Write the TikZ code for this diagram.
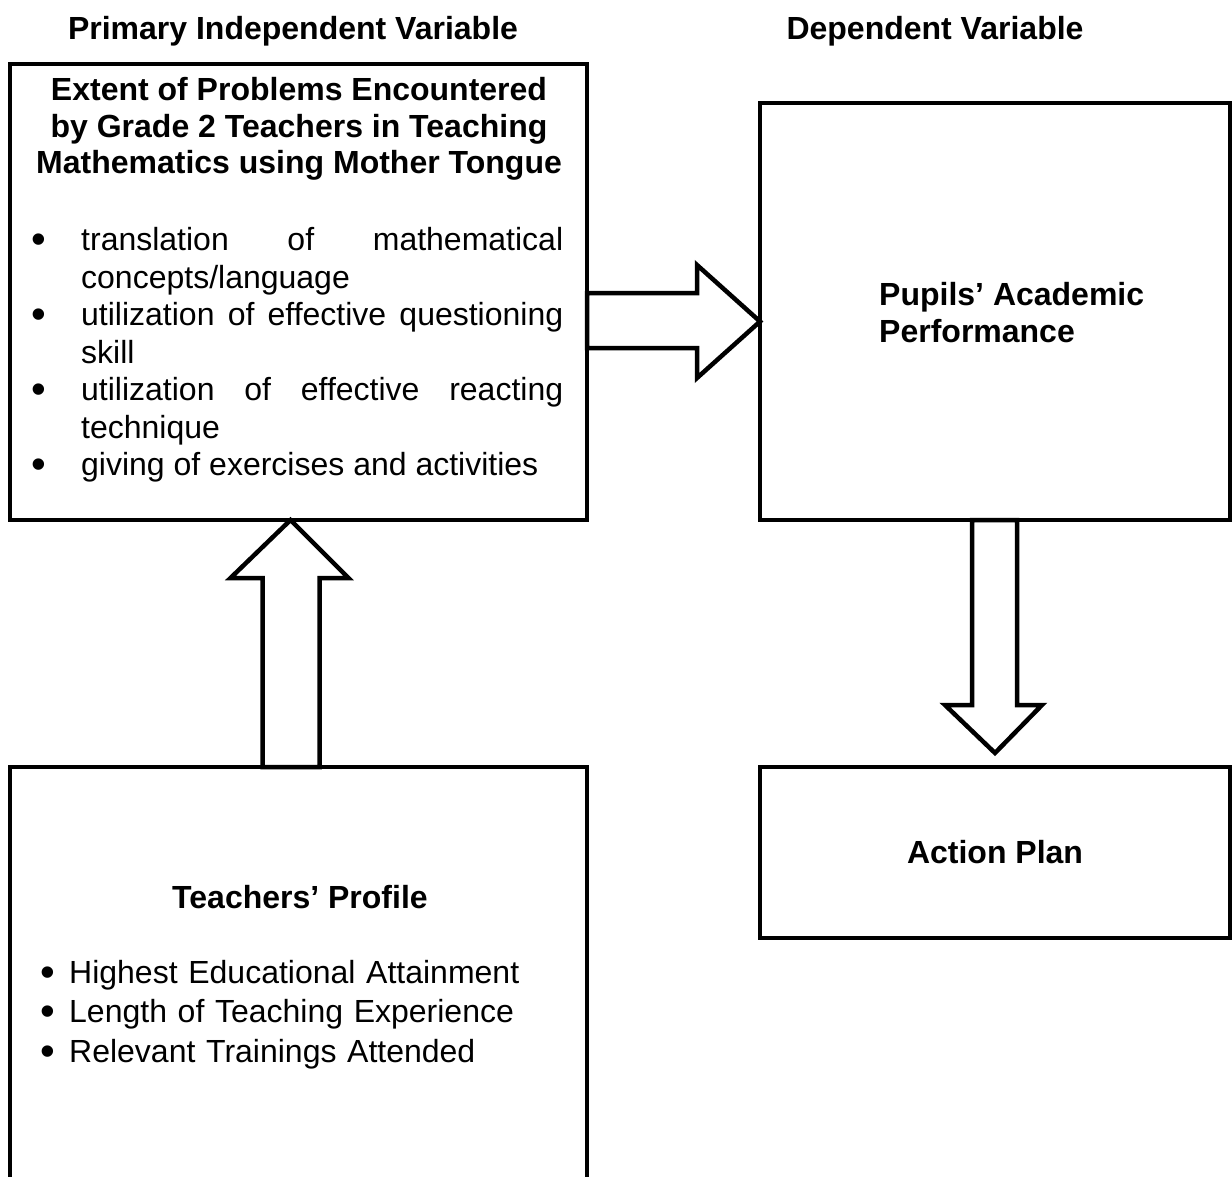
\documentclass[tikz,border=0pt]{standalone}
\usepackage{fontspec}
\setmainfont{Liberation Sans}
\usetikzlibrary{positioning, calc}
\tikzset{
  framebox/.style={
    draw,
    line width = 4.5pt,
    inner sep = 0,
    outer sep = 0,
    anchor = north west
  },
  blockarrow/.style={
    draw,
    fill = white,
    line width = 4.5pt,
    line join = miter
  },
  headlabel/.style={
    font = \bfseries\fontsize{32}{37}\selectfont,
    inner sep = 0,
    anchor = base
  },
  boxtitle/.style={
    font = \bfseries\fontsize{32}{36.5}\selectfont,
    align = center,
    inner sep = 0,
    anchor = base
  },
  itemtext/.style={
    font = \fontsize{32}{37.5}\selectfont,
    text width = 530pt,
    align = justify,
    inner sep = 0,
    anchor = base west
  },
  profitems/.style={
    font = \fontsize{32}{39.5}\selectfont,
    text width = 520pt,
    align = left,
    inner sep = 0,
    anchor = base west
  }
}
\newcommand{\bigdot}{{\fontsize{42}{0}\selectfont\raisebox{-3pt}{\textbullet}}}
\newcommand{\bulletitem}[2]{\hangindent=#1\hangafter=1\noindent\makebox[#1][l]{\hspace{-1.5pt}\bigdot}#2\par}

\begin{document}
\begin{tikzpicture}[x=1pt, y=-1pt]
    \fill[white] (0,0) rectangle (1232,1177);
    \useasboundingbox (0,0) rectangle (1232,1177);
    \clip (0,0) rectangle (1232,1177);

    % headings
    \node[headlabel] (indeplabel) at (293,40) {Primary Independent Variable};
    \node[headlabel] (deplabel) at (935,40) {Dependent Variable};

    % boxes
    \node[framebox, minimum width = 577pt, minimum height = 456pt] (ext) at (10,64) {};
    \node[framebox, minimum width = 470pt, minimum height = 417pt] (perf) at (760,103) {};
    \node[framebox, minimum width = 577pt, minimum height = 440pt] (prof) at (10,767) {};
    \node[framebox, minimum width = 470pt, minimum height = 171pt] (plan) at (760,767) {};

    % box texts (base = last line)
    \node[boxtitle] (exttitle) at (299,174)
      {Extent of Problems Encountered\\by Grade 2 Teachers in Teaching\\Mathematics using Mother Tongue};
    \node[itemtext] (extlist) at (33,251) {\hyphenpenalty=10000\exhyphenpenalty=10000\tolerance=9999
      \bulletitem{48pt}{translation of mathematical concepts/language}
      \bulletitem{48pt}{utilization of effective questioning skill}
      \bulletitem{48pt}{utilization of effective reacting technique}
      \bulletitem{48pt}{giving of exercises and activities}};
    \node[boxtitle, align = left, anchor = base west] (perftitle) at (879,342)
      {Pupils’ Academic\\Performance};
    \node[boxtitle] (plantitle) at (995,863) {Action Plan};
    \node[boxtitle] (proftitle) at (300,908) {Teachers’ Profile};
    \node[profitems] (proflist) at (42,983) {
      \bulletitem{27pt}{Highest Educational Attainment}
      \bulletitem{27pt}{Length of Teaching Experience}
      \bulletitem{27pt}{Relevant Trainings Attended}};

    % block arrows
    \draw[blockarrow] ($(ext.east)+(0,1)$) -- ++(110,0) -- ++(0,-28)
      -- ($(perf.west)+(0,10)$) -- ($(ext.east)+(110,86)$) -- ++(0,-30)
      -- ($(ext.east)+(0,56)$) -- cycle;
    \draw[blockarrow] ($(prof.north)+(-36,0)$) -- ($(ext.south)+(-36,58)$) -- ++(-32,0)
      -- ($(ext.south)+(-8,0)$) -- ($(ext.south)+(50,58)$) -- ++(-29,0)
      -- ($(prof.north)+(21,0)$) -- cycle;
    \draw[blockarrow] ($(perf.south)+(-23,0)$) -- ($(plan.north)+(-23,-62)$) -- ++(-27,0)
      -- ($(plan.north)+(0,-14)$) -- ($(plan.north)+(47,-62)$) -- ++(-25,0)
      -- ($(perf.south)+(22,0)$) -- cycle;
\end{tikzpicture}
\end{document}
